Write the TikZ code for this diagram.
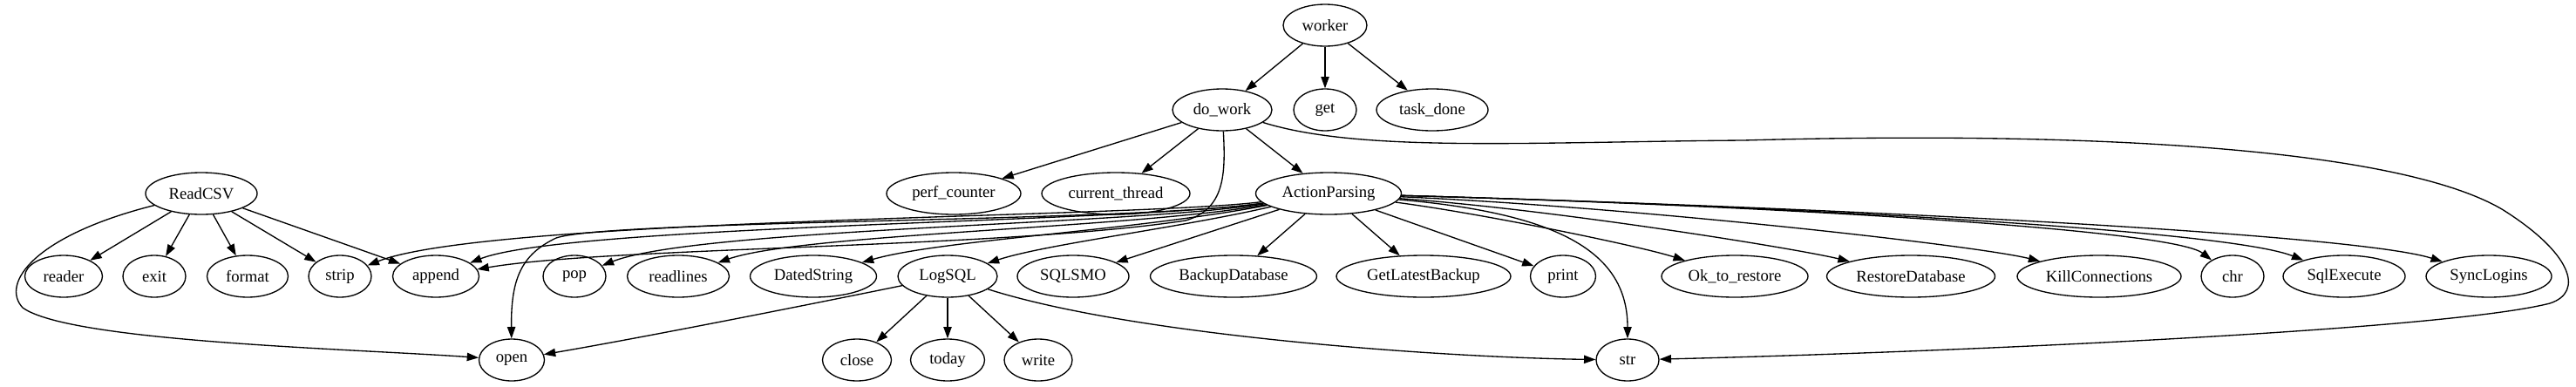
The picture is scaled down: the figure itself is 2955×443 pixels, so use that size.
\documentclass[tikz,border=0pt]{standalone}
\usepackage{fontspec}
\setmainfont{Liberation Serif}
\usetikzlibrary{shapes.geometric,arrows.meta}
\tikzset{
  nd/.style={draw, ellipse, line width=1pt, inner sep=0pt, minimum height=36pt, font=\fontsize{14pt}{16pt}\selectfont},
  edge/.style={draw, line width=1pt, -{Triangle[length=10pt,width=7pt]}}
}
\begin{document}
\begin{tikzpicture}[x=0.75pt,y=-0.75pt]
\useasboundingbox (0,0) rectangle (2955,443);
% row 0
\node[nd, minimum width=72pt] (worker) at (1520,29) {worker};
% row 1
\node[nd, minimum width=85.5pt] (do_work) at (1402,126) {do\_work};
\node[nd, minimum width=54pt] (get) at (1520,126) {get};
\node[nd, minimum width=96pt] (task_done) at (1643,126) {task\_done};
% row 2
\node[nd, minimum width=96pt] (ReadCSV) at (231,222) {ReadCSV};
\node[nd, minimum width=115.5pt] (perf_counter) at (1094,222) {perf\_counter};
\node[nd, minimum width=127.5pt] (current_thread) at (1280,222) {current\_thread};
\node[nd, minimum width=125.25pt] (ActionParsing) at (1524,222) {ActionParsing};
% row 3
\node[nd, minimum width=66.75pt] (reader) at (73,317) {reader};
\node[nd, minimum width=54pt] (exit) at (177,317) {exit};
\node[nd, minimum width=69.75pt] (format) at (284,317) {format};
\node[nd, minimum width=54pt] (strip) at (390,317) {strip};
\node[nd, minimum width=74.25pt] (append) at (500,317) {append};
\node[nd, minimum width=54pt] (pop) at (659,317) {pop};
\node[nd, minimum width=87.75pt] (readlines) at (778,317) {readlines};
\node[nd, minimum width=108.75pt] (DatedString) at (933,317) {DatedString};
\node[nd, minimum width=85.5pt] (LogSQL) at (1087,317) {LogSQL};
\node[nd, minimum width=96pt] (SQLSMO) at (1231,317) {SQLSMO};
\node[nd, minimum width=143.25pt] (BackupDatabase) at (1415,317) {BackupDatabase};
\node[nd, minimum width=150pt] (GetLatestBackup) at (1633,317) {GetLatestBackup};
\node[nd, minimum width=56.25pt] (print) at (1793,317) {print};
\node[nd, minimum width=126pt] (Ok_to_restore) at (1990,317) {Ok\_to\_restore};
\node[nd, minimum width=144.75pt] (RestoreDatabase) at (2192,317) {RestoreDatabase};
\node[nd, minimum width=141pt] (KillConnections) at (2408,317) {KillConnections};
\node[nd, minimum width=54pt] (chr) at (2561,317) {chr};
\node[nd, minimum width=105pt] (SqlExecute) at (2689,317) {SqlExecute};
\node[nd, minimum width=108pt] (SyncLogins) at (2855,317) {SyncLogins};
% row 4
\node[nd, minimum width=56.25pt] (open) at (587,413) {open};
\node[nd, minimum width=59.25pt] (close) at (983,413) {close};
\node[nd, minimum width=63.75pt] (today) at (1087,413) {today};
\node[nd, minimum width=58.5pt] (write) at (1191,413) {write};
\node[nd, minimum width=54pt] (str) at (1867,413) {str};

% worker
\path[edge] (worker) -- (do_work);
\path[edge] (worker) -- (get);
\path[edge] (worker) -- (task_done);
% do_work
\path[edge] (do_work) -- (perf_counter);
\path[edge] (do_work) -- (current_thread);
\path[edge] (do_work) -- (ActionParsing);
\path[edge] (do_work) .. controls (1406,200) and (1405,240) .. (1360,253)
   .. controls (1150,285) and (700,283) .. (append);
\path[edge] (do_work) .. controls (1560,175) and (1750,163) .. (2000,161)
   .. controls (2400,150) and (2750,170) .. (2870,240)
   .. controls (2950,290) and (2965,335) .. (2925,348)
   .. controls (2800,380) and (2200,405) .. (str);
% ReadCSV
\path[edge] (ReadCSV) -- (reader);
\path[edge] (ReadCSV) -- (exit);
\path[edge] (ReadCSV) -- (format);
\path[edge] (ReadCSV) -- (strip);
\path[edge] (ReadCSV) -- (append);
\path[edge] (ReadCSV) .. controls (40,270) and (0,325) .. (26,353)
   .. controls (80,392) and (400,400) .. (open);
% ActionParsing
\path[edge] (ActionParsing) .. controls (1300,250) and (560,250) .. (strip);
\path[edge] (ActionParsing) .. controls (1300,255) and (650,258) .. (append);
\path[edge] (ActionParsing) .. controls (1300,255) and (700,252) .. (638,273)
   .. controls (598,292) and (586,320) .. (open);
\path[edge] (ActionParsing) .. controls (1300,258) and (800,262) .. (pop);
\path[edge] (ActionParsing) .. controls (1300,262) and (920,268) .. (readlines);
\path[edge] (ActionParsing) .. controls (1300,265) and (1080,275) .. (DatedString);
\path[edge] (ActionParsing) .. controls (1350,262) and (1200,280) .. (LogSQL);
\path[edge] (ActionParsing) -- (SQLSMO);
\path[edge] (ActionParsing) -- (BackupDatabase);
\path[edge] (ActionParsing) -- (GetLatestBackup);
\path[edge] (ActionParsing) -- (print);
\path[edge] (ActionParsing) .. controls (1700,245) and (1880,282) .. (Ok_to_restore);
\path[edge] (ActionParsing) .. controls (1780,240) and (2060,285) .. (RestoreDatabase);
\path[edge] (ActionParsing) .. controls (1880,238) and (2270,282) .. (KillConnections);
\path[edge] (ActionParsing) .. controls (2000,235) and (2490,262) .. (chr);
\path[edge] (ActionParsing) .. controls (2000,235) and (2550,262) .. (SqlExecute);
\path[edge] (ActionParsing) .. controls (2100,238) and (2700,268) .. (SyncLogins);
\path[edge] (ActionParsing) .. controls (1790,245) and (1867,290) .. (str);
% LogSQL
\path[edge] (LogSQL) .. controls (950,345) and (750,385) .. (open);
\path[edge] (LogSQL) -- (close);
\path[edge] (LogSQL) -- (today);
\path[edge] (LogSQL) -- (write);
\path[edge] (LogSQL) .. controls (1300,385) and (1650,410) .. (str);
\end{tikzpicture}
\end{document}
